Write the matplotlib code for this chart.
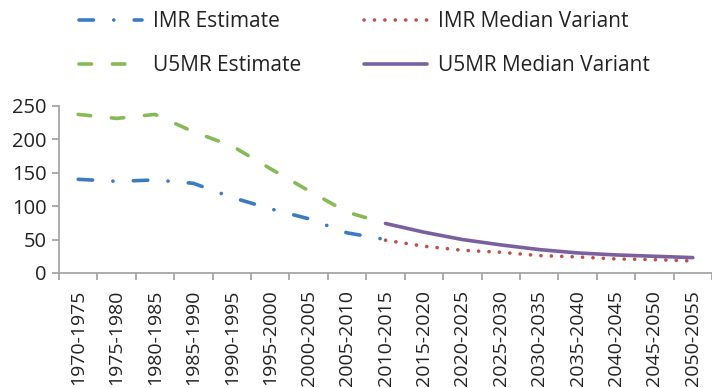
import matplotlib
matplotlib.use("Agg")
import matplotlib.pyplot as plt

plt.rcParams['font.family'] = ['Open Sans', 'DejaVu Sans']
plt.rcParams['lines.scale_dashes'] = False

periods = ["1970-1975", "1975-1980", "1980-1985", "1985-1990", "1990-1995",
           "1995-2000", "2000-2005", "2005-2010", "2010-2015", "2015-2020",
           "2020-2025", "2025-2030", "2030-2035", "2035-2040", "2040-2045",
           "2045-2050", "2050-2055"]

# Estimates cover 1970-1975 .. 2010-2015
imr_estimate = [140, 137, 139, 134, 113, 96, 81, 60, 50]
u5mr_estimate = [237, 231, 237, 211, 190, 156, 123, 91, 74]

# Median variant projections cover 2010-2015 .. 2050-2055
imr_median = [49, 40, 34, 31, 26, 24, 21, 20, 18]
u5mr_median = [74, 61, 50, 42, 35, 30, 27, 25, 23]

x_est = list(range(len(imr_estimate)))
x_med = list(range(len(imr_estimate) - 1, len(periods)))

BLUE = "#3A7BC2"
GREEN = "#86B957"
RED = "#C0504D"
PURPLE = "#7A609F"
TEXT = "#222222"
AXIS = "#A6A6A6"

fig = plt.figure(figsize=(7.12, 3.88), dpi=100)
ax = fig.add_axes([59 / 712, 115 / 388, 653 / 712, 167.3 / 388])

lw = 2.6
l_imr_est, = ax.plot(x_est, imr_estimate, color=BLUE, lw=lw,
                     linestyle=(0, (10.4, 14.6, 0.1, 14.6)),
                     dash_capstyle='round', label="IMR Estimate")
l_u5_est, = ax.plot(x_est, u5mr_estimate, color=GREEN, lw=lw,
                    linestyle=(0, (9.0, 15.0)),
                    dash_capstyle='round', label="U5MR Estimate")
l_imr_med, = ax.plot(x_med, imr_median, color=RED, lw=lw,
                     linestyle=(0, (0.1, 7.4)),
                     dash_capstyle='round', label="IMR Median Variant")
l_u5_med, = ax.plot(x_med, u5mr_median, color=PURPLE, lw=lw,
                    solid_capstyle='round', label="U5MR Median Variant")

ax.set_xlim(-0.5, len(periods) - 0.5)
ax.set_ylim(0, 250)
ax.set_yticks([0, 50, 100, 150, 200, 250])
ax.set_xticks(range(len(periods)))
ax.set_xticklabels(periods, rotation=90, va='top')
ax.set_xticks([i - 0.5 for i in range(len(periods) + 1)], minor=True)

for side in ('top', 'right'):
    ax.spines[side].set_visible(False)
for side in ('left', 'bottom'):
    ax.spines[side].set_color(AXIS)
    ax.spines[side].set_linewidth(1.3)

ax.tick_params(axis='x', which='major', length=0, pad=12,
               labelsize=14, labelcolor=TEXT)
ax.tick_params(axis='x', which='minor', length=5, width=1.3, color=AXIS)
ax.tick_params(axis='y', length=5, width=1.3, color=AXIS, pad=4,
               labelsize=14.5, labelcolor=TEXT)

legend_style = dict(loc='upper left', frameon=False, fontsize=15,
                    handlelength=3.0, handletextpad=0.55, labelspacing=1.1,
                    borderpad=0.0, borderaxespad=0.0, labelcolor=TEXT)
fig.legend(handles=[l_imr_est, l_u5_est],
           bbox_to_anchor=(79 / 712, 1 - 11 / 388), **legend_style)
fig.legend(handles=[l_imr_med, l_u5_med],
           bbox_to_anchor=(364 / 712, 1 - 11 / 388), **legend_style)

fig.savefig("out.png", dpi=100)
